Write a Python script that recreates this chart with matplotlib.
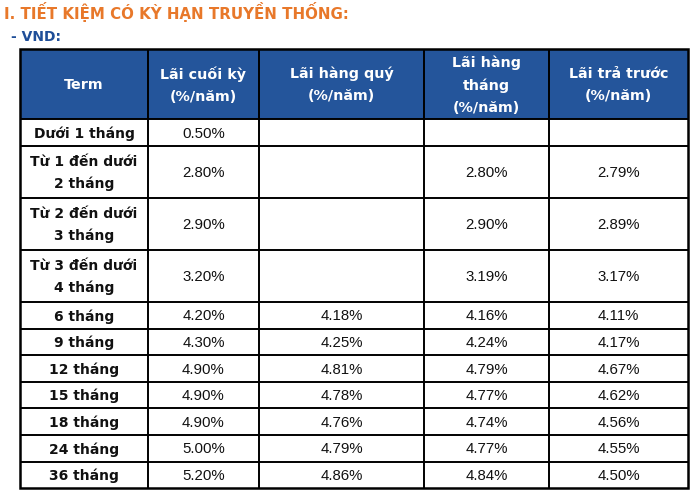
import matplotlib
matplotlib.use("Agg")
import matplotlib.pyplot as plt
from matplotlib.patches import Rectangle

plt.rcParams['font.family'] = ['Liberation Sans', 'DejaVu Sans']

# ---- data ----
title = "I. TIẾT KIỆM CÓ KỲ HẠN TRUYỀN THỐNG:"
subtitle = "- VND:"
headers = ["Term", "Lãi cuối kỳ\n(%/năm)", "Lãi hàng quý\n(%/năm)",
           "Lãi hàng\ntháng\n(%/năm)", "Lãi trả trước\n(%/năm)"]
terms = ["Dưới 1 tháng", "Từ 1 đến dưới\n2 tháng", "Từ 2 đến dưới\n3 tháng",
         "Từ 3 đến dưới\n4 tháng", "6 tháng", "9 tháng", "12 tháng",
         "15 tháng", "18 tháng", "24 tháng", "36 tháng"]
lai_cuoi_ky = [0.50, 2.80, 2.90, 3.20, 4.20, 4.30, 4.90, 4.90, 4.90, 5.00, 5.20]
lai_hang_quy = [None, None, None, None, 4.18, 4.25, 4.81, 4.78, 4.76, 4.79, 4.86]
lai_hang_thang = [None, 2.80, 2.90, 3.19, 4.16, 4.24, 4.79, 4.77, 4.74, 4.77, 4.84]
lai_tra_truoc = [None, 2.79, 2.89, 3.17, 4.11, 4.17, 4.67, 4.62, 4.56, 4.55, 4.50]

# ---- layout (pixels) ----
W, H = 700, 493
col_edges = [20, 148, 259, 424, 549, 688]
table_top = 49
header_h = 70
row_heights = [27, 52, 52, 52] + [26.6] * 7

HEADER_BLUE = "#24559B"
ORANGE = "#E8782A"
TITLE_BLUE = "#1F4E98"
WIDE = ['DejaVu Sans']
ARIAL = ['Liberation Sans', 'DejaVu Sans']

fig = plt.figure(figsize=(W / 100, H / 100), dpi=100)
ax = fig.add_axes([0, 0, 1, 1])
ax.set_xlim(0, W)
ax.set_ylim(H, 0)
ax.axis('off')

ax.text(4, 12, title, color=ORANGE, fontsize=10.8, fontweight='bold',
        va='center', ha='left', family=WIDE)
ax.text(11, 37, subtitle, color=TITLE_BLUE, fontsize=10, fontweight='bold',
        va='center', ha='left', family=WIDE)

# header
x0, x1 = col_edges[0], col_edges[-1]
ax.add_patch(Rectangle((x0, table_top), x1 - x0, header_h,
                       facecolor=HEADER_BLUE, edgecolor='none'))
for i, h in enumerate(headers):
    cx = (col_edges[i] + col_edges[i + 1]) / 2
    ax.text(cx, table_top + header_h / 2 + 1, h, color='white', fontsize=10.3,
            fontweight='bold', ha='center', va='center', linespacing=1.72,
            family=WIDE)

# rows
columns = [lai_cuoi_ky, lai_hang_quy, lai_hang_thang, lai_tra_truoc]
y = table_top + header_h
row_edges = [table_top, y]
for r, rh in enumerate(row_heights):
    cy = y + rh / 2 + 1
    ax.text((col_edges[0] + col_edges[1]) / 2, cy, terms[r], fontsize=10,
            fontweight='bold', ha='center', va='center', linespacing=1.65,
            color='#111111', family=WIDE)
    for c, col in enumerate(columns):
        v = col[r]
        if v is None:
            continue
        cx = (col_edges[c + 1] + col_edges[c + 2]) / 2
        ax.text(cx, cy, f"{v:.2f}%", fontsize=10.8, ha='center', va='center',
                color='#111111', family=ARIAL)
    y += rh
    row_edges.append(y)

table_bottom = row_edges[-1]
# grid lines
for ye in row_edges[1:-1]:
    ax.plot([x0, x1], [ye, ye], color='black', lw=1.4, solid_capstyle='butt')
for xe in col_edges[1:-1]:
    ax.plot([xe, xe], [table_top, table_bottom], color='black', lw=1.4,
            solid_capstyle='butt')
ax.add_patch(Rectangle((x0, table_top), x1 - x0, table_bottom - table_top,
                       facecolor='none', edgecolor='black', lw=1.8))

fig.savefig("out.png", dpi=100)
